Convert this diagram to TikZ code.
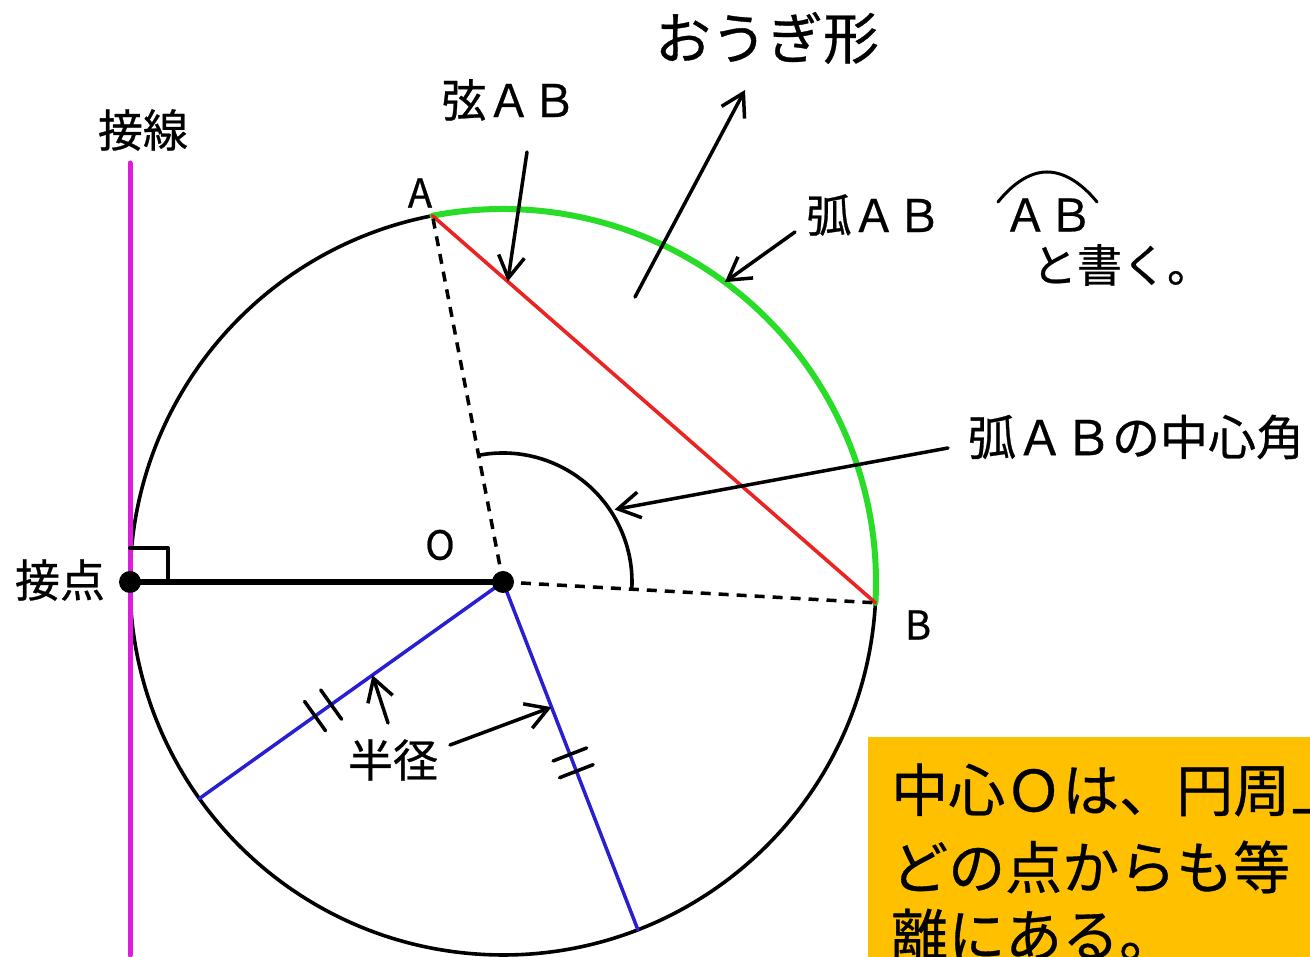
\documentclass[tikz,border=0pt]{standalone}
\usepackage{fontspec}
\newfontfamily\jpfont[FakeBold=0.6]{Noto Sans CJK JP}
\usetikzlibrary{calc,arrows.meta}
\definecolor{arcgreen}{RGB}{40,220,40}
\definecolor{chordred}{RGB}{235,35,35}
\definecolor{radblue}{RGB}{40,30,210}
\definecolor{tanmagenta}{RGB}{220,30,220}
\definecolor{boxgold}{RGB}{255,192,0}
\begin{document}
\begin{tikzpicture}[x=1pt,y=1pt,line join=round,line cap=round,
  >={Straight Barb[length=22pt,width=26pt]},
  lbl/.style={font=\jpfont\fontsize{45}{50}\selectfont,inner sep=0pt},
  biglbl/.style={font=\jpfont\fontsize{56}{60}\selectfont,inner sep=0pt},
  ptlbl/.style={font=\jpfont\fontsize{40}{44}\selectfont,inner sep=0pt},
  boxtxt/.style={font=\jpfont\fontsize{57}{62}\selectfont,inner sep=0pt,anchor=west},
  pointer/.style={->,line width=3.5pt},
  radius line/.style={line width=3.5pt,draw=radblue},
  dashline/.style={line width=3.5pt,dash pattern=on 10pt off 8pt,line cap=butt},
  hatch/.style={line width=3.5pt}]
    \useasboundingbox (0,0) rectangle (1310,957);
    \def\crad{373}
    \coordinate (O) at (503,375);
    \coordinate (A) at ($(O)+(100.9:\crad)$);
    \coordinate (B) at ($(O)+(-3.2:\crad)$);
    \coordinate (T) at ($(O)+(180:\crad)$);
    \coordinate (P) at ($(O)+(215.5:\crad)$);
    \coordinate (Q) at ($(O)+(-68.8:\crad)$);
    % circle, arc and chord
    \draw[line width=3.6pt] (B) arc[start angle=-3.2,end angle=-259.1,radius=\crad];
    \draw[line width=6pt,draw=arcgreen] (A) arc[start angle=100.9,end angle=-3.2,radius=\crad];
    \draw[line width=3.6pt,draw=chordred] (A) -- (B);
    \draw[dashline] (O) -- (A);
    \draw[dashline] (O) -- (B);
    \draw[line width=3.6pt] ($(O)+(-3.2:129)$) arc[start angle=-3.2,end angle=100.9,radius=129];
    % radii with marks
    \draw[radius line] (O) -- (P);
    \draw[radius line] (O) -- (Q);
    \foreach \f in {0.566,0.619}
    \draw[hatch] ($(O)!\f!(P)!18pt!90:(P)$) -- ($(O)!\f!(P)!18pt!-90:(P)$);
    \foreach \f in {0.496,0.544}
    \draw[hatch] ($(O)!\f!(Q)!18pt!90:(Q)$) -- ($(O)!\f!(Q)!18pt!-90:(Q)$);
    % tangent
    \coordinate (tantop) at (130,794);
    \coordinate (tanbot) at (130,2);
    \draw[line width=5pt,draw=tanmagenta] (tanbot) -- (tantop);
    \draw[line width=6pt] (T) -- (O);
    \draw[line width=4pt] ($(T)+(0,34)$) -| ($(T)+(38,0)$);
    \fill (T) circle(11);
    \fill (O) circle(11);
    % labels
    \node[ptlbl] (Albl) at (420,764) {A};
    \node[ptlbl] (Blbl) at (918,332) {B};
    \node[ptlbl] (Olbl) at (440,412) {O};
    \node[lbl] (tanlbl) at (143,827) {接線};
    \node[lbl] (tanptlbl) at (60,377) {接点};
    \node[lbl] (chordlbl) at (509,857) {弦ＡＢ};
    \node[biglbl] (sectorlbl) at (767,919) {おうぎ形};
    \node[lbl] (arclbl) at (874,742) {弧ＡＢ};
    \node[lbl] (abmark) at (1048,742) {ＡＢ};
    \draw[line width=3pt] (998,755) parabola bend (1047,785) (1097,755);
    \node[lbl] (writelbl) at (1122,692) {と書く。};
    \node[lbl,font=\jpfont\fontsize{48}{52}\selectfont] (anglelbl) at (1136,520) {弧ＡＢの中心角};
    \node[lbl] (radlbl) at (393,197) {半径};
    % pointers
    \coordinate (chordtail) at (527,805);
    \coordinate (sectortail) at (635,660);
    \coordinate (sectortip) at (745,867);
    \coordinate (arctail) at (795,725);
    \coordinate (angletail) at (948,509);
    \coordinate (radtailA) at (388,234);
    \coordinate (radtailB) at (450,212);
    \draw[pointer] (chordtail) -- ($(A)!0.17!(B)$);
    \draw[pointer] (sectortail) -- (sectortip);
    \draw[pointer] (arctail) -- ($(O)+(53.5:\crad)$);
    \draw[pointer] (angletail) -- ($(O)+(33:133)$);
    \draw[pointer] (radtailA) -- ($(O)!0.43!(P)$);
    \draw[pointer] (radtailB) -- ($(O)!0.36!(Q)$);
    % note box
    \begin{scope}
        \clip (868,0) rectangle (1310,220);
        \fill[boxgold] (868,0) rectangle (1310,220);
        \node[boxtxt] (note1) at (891,167) {中心Ｏは、円周上};
        \node[boxtxt] (note2) at (891,90) {どの点からも等};
        \node[boxtxt] (note3) at (891,22) {離にある。};
    \end{scope}
\end{tikzpicture}
\end{document}
